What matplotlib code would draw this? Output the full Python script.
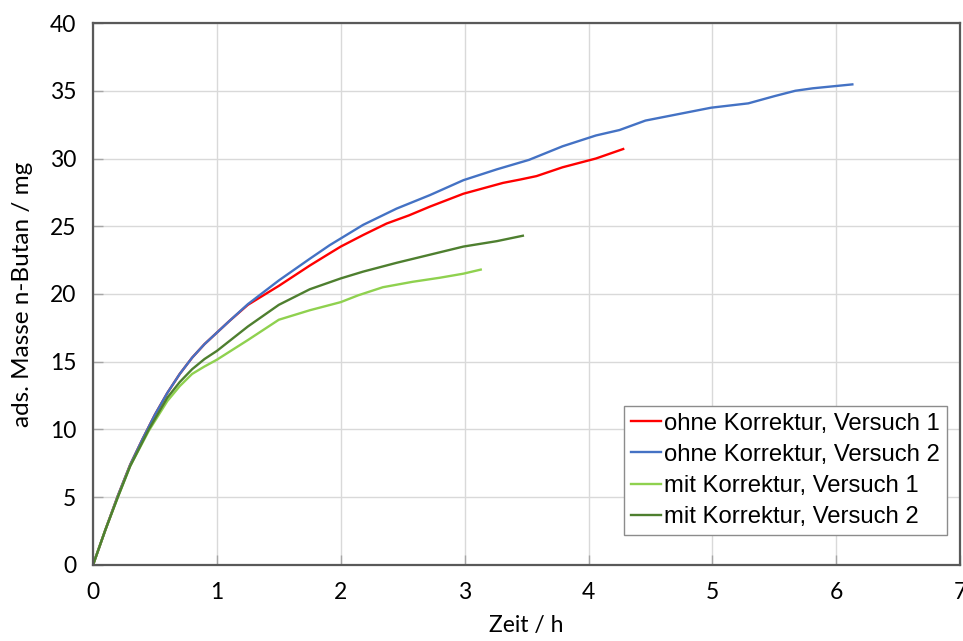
import matplotlib
matplotlib.use("Agg")
import matplotlib.pyplot as plt

# Adsorbierte Masse n-Butan über der Zeit
t_ohne_1 = [0, 0.05, 0.1, 0.2, 0.3, 0.4, 0.5, 0.6, 0.7, 0.8, 0.9, 1.0, 1.1,
            1.25, 1.5, 1.75, 1.91, 2.0, 2.18, 2.37, 2.55, 2.72, 2.99, 3.15,
            3.31, 3.45, 3.58, 3.79, 4.06, 4.28]
m_ohne_1 = [0, 1.3, 2.6, 5.1, 7.4, 9.3, 11.1, 12.7, 14.1, 15.3, 16.3, 17.15,
            18.0, 19.2, 20.6, 22.1, 23.0, 23.5, 24.35, 25.2, 25.8, 26.45,
            27.4, 27.8, 28.2, 28.45, 28.7, 29.35, 30.0, 30.7]

t_ohne_2 = [0, 0.05, 0.1, 0.2, 0.3, 0.4, 0.5, 0.6, 0.7, 0.8, 0.9, 1.0, 1.1,
            1.25, 1.5, 1.75, 1.91, 2.0, 2.18, 2.45, 2.72, 2.99, 3.26, 3.52,
            3.79, 4.06, 4.25, 4.46, 4.99, 5.29, 5.5, 5.67, 5.81, 6.13]
m_ohne_2 = [0, 1.3, 2.6, 5.1, 7.4, 9.3, 11.1, 12.7, 14.1, 15.3, 16.3, 17.15,
            18.0, 19.25, 21.0, 22.6, 23.6, 24.1, 25.1, 26.3, 27.3, 28.4, 29.2,
            29.9, 30.9, 31.7, 32.1, 32.8, 33.75, 34.07, 34.6, 35.0, 35.18,
            35.47]

t_mit_1 = [0, 0.05, 0.1, 0.2, 0.3, 0.45, 0.6, 0.7, 0.8, 0.9, 1.0, 1.25, 1.5,
           1.75, 2.0, 2.14, 2.34, 2.58, 2.8, 2.99, 3.13]
m_mit_1 = [0, 1.3, 2.6, 5.0, 7.3, 9.9, 12.1, 13.2, 14.1, 14.65, 15.15, 16.6,
           18.1, 18.8, 19.4, 19.9, 20.5, 20.9, 21.2, 21.5, 21.8]

t_mit_2 = [0, 0.05, 0.1, 0.2, 0.3, 0.45, 0.6, 0.7, 0.8, 0.9, 1.0, 1.25, 1.5,
           1.75, 2.0, 2.18, 2.45, 2.72, 2.99, 3.26, 3.47]
m_mit_2 = [0, 1.3, 2.6, 5.0, 7.3, 10.0, 12.35, 13.5, 14.45, 15.2, 15.8, 17.6,
           19.2, 20.35, 21.15, 21.65, 22.3, 22.9, 23.5, 23.9, 24.3]

labels = ["ohne Korrektur, Versuch 1", "ohne Korrektur, Versuch 2",
          "mit Korrektur, Versuch 1", "mit Korrektur, Versuch 2"]
colors = ["#FF0000", "#4472C4", "#8FD14F", "#4E7F2F"]

plt.rcParams["font.family"] = ["Lato", "DejaVu Sans"]

fig = plt.figure(figsize=(9.63, 6.41), dpi=100)
ax = fig.add_axes([0.0966, 0.1186, 0.9004, 0.8455])

series = [(t_ohne_1, m_ohne_1), (t_ohne_2, m_ohne_2),
          (t_mit_1, m_mit_1), (t_mit_2, m_mit_2)]
for (t, m), lab, c in zip(series, labels, colors):
    ax.plot(t, m, color=c, linewidth=1.7, label=lab)

ax.set_xlim(0, 7)
ax.set_ylim(0, 40)
ax.set_xticks(range(0, 8))
ax.set_yticks(range(0, 41, 5))
ax.grid(True, color="#D9D9D9", linewidth=1.0)
ax.set_axisbelow(True)
ax.tick_params(direction="in", length=7, width=1, color="#A6A6A6",
               labelsize=16.5, pad=12)
for s in ax.spines.values():
    s.set_color("#595959")
    s.set_linewidth(1.6)

ax.set_xlabel("Zeit / h", fontsize=16.5, labelpad=9)
ax.set_ylabel("ads. Masse n-Butan / mg", fontsize=17.5, labelpad=12)

leg = ax.legend(loc="lower right", bbox_to_anchor=(0.985, 0.055),
                borderaxespad=0, fancybox=False, framealpha=1,
                edgecolor="#8C8C8C", handlelength=1.25, handletextpad=0.12,
                labelspacing=0.38, borderpad=0.3,
                prop={"family": ["Liberation Sans", "DejaVu Sans"],
                      "size": 17.2})
leg.get_frame().set_linewidth(1.0)

fig.savefig("out.png", dpi=100)
